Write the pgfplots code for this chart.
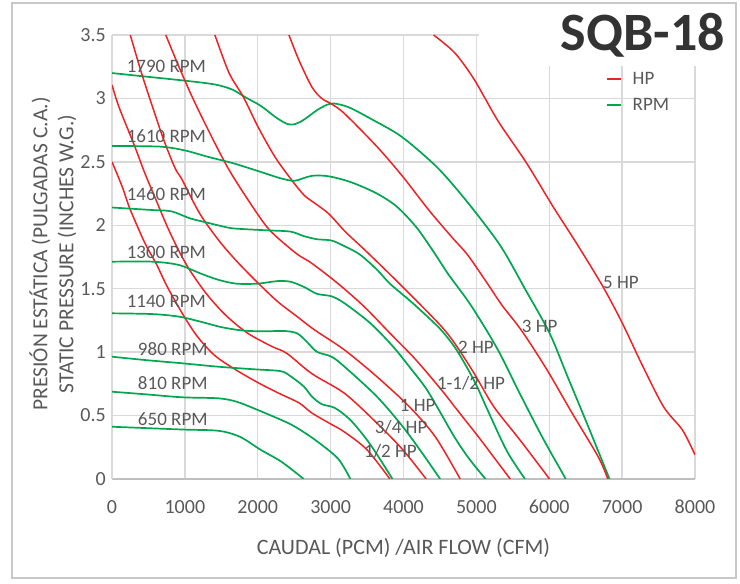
\documentclass[border=0pt]{standalone}
\usepackage{fontspec}
\setmainfont{Carlito}
\usepackage{pgfplots}
\pgfplotsset{compat=1.18}
\definecolor{hpred}{RGB}{237,34,36}
\definecolor{rpmgreen}{RGB}{0,166,80}
\definecolor{txtgray}{RGB}{89,89,89}
\definecolor{gridgray}{RGB}{217,217,217}
\definecolor{axisgray}{RGB}{191,191,191}
\definecolor{framegray}{RGB}{200,200,200}
\definecolor{titlegray}{RGB}{51,51,51}
\pgfplotsset{
  hp/.style={draw=hpred, line width=1.5bp, smooth, tension=0.5, no markers},
  rpm/.style={draw=rpmgreen, line width=1.7bp, smooth, tension=0.5, no markers},
}
\tikzset{lbl/.style={font=\fontsize{19bp}{22bp}\selectfont, text=txtgray, inner sep=0pt, anchor=west}}
\begin{document}
\begin{tikzpicture}
\useasboundingbox (0,0) rectangle (740bp,584bp);
\begin{axis}[
  at={(112bp,105bp)}, anchor=south west,
  scale only axis, width=583bp, height=444bp,
  xmin=0, xmax=8000, ymin=0, ymax=3.5,
  xtick={0,1000,2000,3000,4000,5000,6000,7000,8000},
  ytick={0,0.5,1,1.5,2,2.5,3,3.5},
  scaled x ticks=false,
  /pgf/number format/1000 sep={},
  /pgf/number format/assume math mode=true,
  tick label style={font=\fontsize{20bp}{24bp}\selectfont, text=txtgray, inner sep=0pt},
  xticklabel shift=21bp,
  yticklabel shift=6bp,
  major tick length=0pt,
  grid=major,
  major grid style={draw=gridgray, line width=1.4bp},
  axis x line*=bottom, axis y line*=left,
  axis line style={-, line width=1.4bp},
  x axis line style={draw=axisgray},
  y axis line style={draw=gridgray},
  legend style={at={(axis description cs:0.847,0.921)}, anchor=north west,
    draw=none, fill=none, font=\fontsize{19bp}{22bp}\selectfont, text=txtgray,
    row sep=8bp, column sep=9bp, inner sep=0pt},
  legend cell align=left,
  legend image code/.code={\draw[#1] (0bp,0bp) -- (14bp,0bp);},
]
% HP curves (red)
\addplot[hp] coordinates {(0,2.50) (143,2.30) (246,2.13) (451,1.86) (604,1.70) (758,1.516) (964,1.306) (1162,1.13) (1407,0.975) (1701,0.86) (2022,0.754) (2292,0.675) (2566,0.60) (2743,0.52) (3013,0.43) (3191,0.37) (3500,0.23) (3813,0)};
\addlegendentry{HP}
\addplot[rpm] coordinates {(0,3.20) (500,3.17) (1000,3.14) (1412,3.11) (1650,3.07) (1828,3.01) (2045,2.94) (2250,2.85) (2400,2.80) (2490,2.795) (2600,2.82) (2700,2.86) (2820,2.91) (2950,2.95) (3050,2.96) (3250,2.93) (3550,2.84) (3970,2.70) (4420,2.48) (4708,2.30) (5032,2.07) (5351,1.82) (5666,1.50) (6004,1.15) (6249,0.81) (6516,0.44) (6827,0)};
\addlegendentry{RPM}
\addplot[hp, forget plot] coordinates {(0,3.106) (97,2.93) (300,2.64) (451,2.41) (604,2.20) (758,1.99) (912,1.805) (1066,1.647) (1290,1.464) (1510,1.32) (1700,1.22) (1900,1.135) (2200,1.043) (2400,0.99) (2743,0.83) (3191,0.675) (3636,0.44) (3991,0.23) (4311,0)};
\addplot[hp, forget plot] coordinates {(251,3.5) (405,3.2) (558,2.93) (712,2.67) (866,2.45) (964,2.357) (1202,2.094) (1461,1.884) (1706,1.72) (1995,1.55) (2270,1.40) (2541,1.28) (2780,1.175) (3191,1.017) (3636,0.806) (4080,0.57) (4436,0.333) (4778,0)};
\addplot[hp, forget plot] coordinates {(738,3.5) (918,3.25) (1118,2.99) (1365,2.70) (1607,2.436) (1902,2.17) (2162,1.963) (2524,1.78) (2743,1.70) (3102,1.54) (3458,1.36) (3813,1.15) (4169,0.94) (4524,0.70) (4702,0.57) (4880,0.44) (5058,0.31) (5464,0)};
\addplot[hp, forget plot] coordinates {(1412,3.5) (1607,3.2) (1804,3.01) (2000,2.78) (2235,2.54) (2465,2.357) (2631,2.24) (2743,2.19) (2968,2.094) (3200,1.95) (3470,1.805) (3847,1.595) (4213,1.385) (4524,1.20) (4702,1.07) (4969,0.833) (5239,0.57) (5599,0.307) (6004,0)};
\addplot[hp, forget plot] coordinates {(2428,3.5) (2566,3.30) (2743,3.09) (2878,3.0) (3013,2.956) (3191,2.88) (3636,2.62) (3991,2.383) (4347,2.12) (4658,1.91) (4880,1.766) (5149,1.543) (5351,1.37) (5620,1.17) (5959,0.87) (6315,0.518) (6671,0.176) (6804,0)};
\addplot[hp, forget plot] coordinates {(4413,3.5) (4702,3.36) (4969,3.15) (5300,2.82) (5689,2.49) (6049,2.15) (6383,1.85) (6737,1.516) (7004,1.227) (7264,0.912) (7568,0.57) (7828,0.386) (8000,0.19)};
% RPM curves (green)
\addplot[rpm, forget plot] coordinates {(0,2.625) (661,2.62) (1000,2.59) (1315,2.54) (1657,2.49) (2045,2.42) (2316,2.37) (2497,2.35) (2620,2.37) (2743,2.39) (2923,2.39) (3103,2.37) (3325,2.33) (3636,2.25) (3902,2.15) (4169,1.99) (4391,1.81) (4620,1.61) (4924,1.37) (5284,1.03) (5599,0.67) (5914,0.32) (6227,0)};
\addplot[rpm, forget plot] coordinates {(0,2.14) (558,2.12) (815,2.11) (1069,2.055) (1313,2.02) (1607,1.98) (1804,1.97) (2135,1.96) (2450,1.95) (2631,1.915) (2811,1.89) (3013,1.88) (3191,1.835) (3400,1.77) (3636,1.65) (3813,1.54) (4100,1.40) (4347,1.27) (4524,1.17) (4702,1.04) (4850,0.90) (5000,0.74) (5149,0.55) (5419,0.22) (5667,0)};
\addplot[rpm, forget plot] coordinates {(0,1.713) (558,1.713) (918,1.687) (1216,1.62) (1461,1.57) (1706,1.54) (2000,1.54) (2270,1.56) (2450,1.555) (2631,1.515) (2811,1.46) (3013,1.44) (3191,1.385) (3547,1.227) (3858,1.043) (4080,0.885) (4302,0.72) (4480,0.55) (4700,0.33) (4900,0.16) (5126,0)};
\addplot[rpm, forget plot] coordinates {(0,1.306) (558,1.30) (918,1.28) (1216,1.24) (1510,1.196) (1804,1.17) (2090,1.164) (2360,1.167) (2541,1.148) (2676,1.08) (2811,1.003) (3013,0.964) (3191,0.885) (3636,0.649) (3991,0.412) (4258,0.203) (4503,0)};
\addplot[rpm, forget plot] coordinates {(0,0.964) (451,0.938) (964,0.912) (1461,0.885) (1946,0.865) (2316,0.85) (2450,0.81) (2631,0.73) (2743,0.65) (2878,0.59) (3058,0.56) (3280,0.46) (3547,0.27) (3849,0)};
\addplot[rpm, forget plot] coordinates {(0,0.688) (451,0.668) (964,0.644) (1461,0.636) (1706,0.61) (1946,0.557) (2325,0.465) (2518,0.41) (2790,0.307) (3102,0.16) (3271,0)};
\addplot[rpm, forget plot] coordinates {(0,0.412) (964,0.39) (1461,0.38) (1755,0.333) (2040,0.23) (2325,0.136) (2631,0)};
% labels
\node[lbl] at (axis cs:200,3.25) {1790 RPM};
\node[lbl] at (axis cs:200,2.70) {1610 RPM};
\node[lbl] at (axis cs:200,2.247) {1460 RPM};
\node[lbl] at (axis cs:200,1.79) {1300 RPM};
\node[lbl] at (axis cs:200,1.397) {1140 RPM};
\node[lbl] at (axis cs:354,1.025) {980 RPM};
\node[lbl] at (axis cs:354,0.754) {810 RPM};
\node[lbl] at (axis cs:354,0.47) {650 RPM};
\node[lbl] at (axis cs:3457,0.215) {1/2 HP};
\node[lbl] at (axis cs:3604,0.407) {3/4 HP};
\node[lbl] at (axis cs:3947,0.583) {1 HP};
\node[lbl] at (axis cs:4457,0.754) {1-1/2 HP};
\node[lbl] at (axis cs:4747,1.038) {2 HP};
\node[lbl] at (axis cs:5621,1.2) {3 HP};
\node[lbl] at (axis cs:6737,1.547) {5 HP};
\end{axis}
\fill[white] (479bp,518bp) rectangle (735bp,582bp);
\node[font=\fontsize{54bp}{60bp}\selectfont\bfseries, text=titlegray] at (643bp,549bp) {SQB-18};
\node[font=\fontsize{22bp}{26bp}\selectfont, text=txtgray] at (403.5bp,36bp) {CAUDAL (PCM) /AIR FLOW (CFM)};
\node[font=\fontsize{21.5bp}{26bp}\selectfont, text=txtgray, rotate=90, align=center] at (53bp,330bp) {PRESIÓN ESTÁTICA (PULGADAS C.A.)\\STATIC PRESSURE (INCHES W.G.)};
\draw[framegray, line width=1.2bp] (12bp,6bp) rectangle (736bp,581bp);
\end{tikzpicture}
\end{document}
